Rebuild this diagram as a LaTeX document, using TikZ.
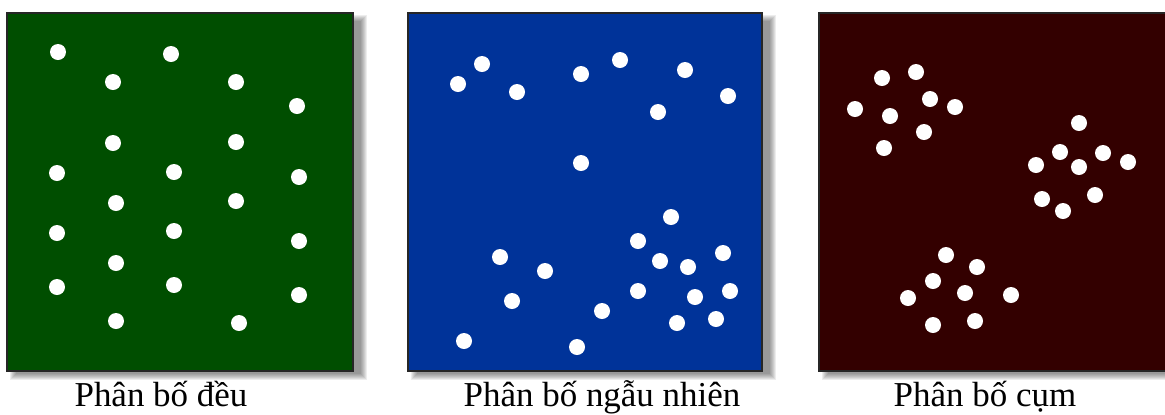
\documentclass[tikz,border=0pt]{standalone}
\usepackage{fontspec}
\setmainfont{Liberation Serif}
\usetikzlibrary{positioning}
\definecolor{uniGreen}{RGB}{0,78,0}
\definecolor{randBlue}{RGB}{0,51,153}
\definecolor{clumpRed}{RGB}{51,0,0}
\tikzset{
  panel/.style={draw=black!85, line width=0.7pt},
  shade/.style={fill=black, opacity=0.07},
  dot/.style={fill=white},
  caption/.style={font=\fontsize{19.9}{24}\selectfont, anchor=base, inner sep=0pt}
}
% soft shadow under a panel: x0, y0, x1, y1
\newcommand{\panelshadow}[4]{%
  \foreach \r in {0,...,6}
    \fill[shade] ({#1+9-\r},{#2+8-\r}) rectangle ({#3+8+\r},{#4+3+\r});
}

\begin{document}
\begin{tikzpicture}[x=0.02cm, y=-0.02cm]
\useasboundingbox (0,0) rectangle (1165,414);
\clip (0,0) rectangle (1165,414);
% panel 1: uniform
\panelshadow{7}{13}{353}{371}
\fill[uniGreen, panel] (7,13) rectangle (353,371);
\foreach \x/\y in {58/52, 171/54, 113/82, 236/82, 297/106, 113/143, 236/142,
  57/173, 174/172, 299/177, 116/203, 236/201, 57/233, 174/231, 299/241,
  116/263, 57/287, 174/285, 299/295, 116/321, 239/323}
  \fill[dot] (\x,\y) circle[radius=0.16cm];
\node[caption] (capU) at (161,406) {Phân bố đều};
% panel 2: random
\panelshadow{408}{13}{762}{371}
\fill[randBlue, panel] (408,13) rectangle (762,371);
\foreach \x/\y in {482/64, 458/84, 517/92, 581/74, 620/60, 685/70, 728/96,
  658/112, 581/163, 671/217, 638/241, 723/253, 500/257, 660/261, 688/267,
  545/271, 638/291, 730/291, 695/297, 512/301, 602/311, 716/319, 677/323,
  464/341, 577/347}
  \fill[dot] (\x,\y) circle[radius=0.16cm];
\node[caption] (capR) at (602,406) {Phân bố ngẫu nhiên};
% panel 3: clumped
\panelshadow{819}{13}{1180}{371}
\fill[clumpRed, panel] (819,13) rectangle (1180,371);
\foreach \x/\y in {882/78, 916/72, 855/109, 890/116, 930/99, 955/107, 924/132, 884/148,
  1079/123, 1060/152, 1103/153, 1128/162, 1036/165, 1079/167, 1042/199, 1095/195, 1063/211,
  946/255, 977/267, 933/281, 965/293, 908/298, 1011/295, 933/325, 975/321}
  \fill[dot] (\x,\y) circle[radius=0.16cm];
\node[caption] (capC) at (985,406) {Phân bố cụm};
\end{tikzpicture}
\end{document}
